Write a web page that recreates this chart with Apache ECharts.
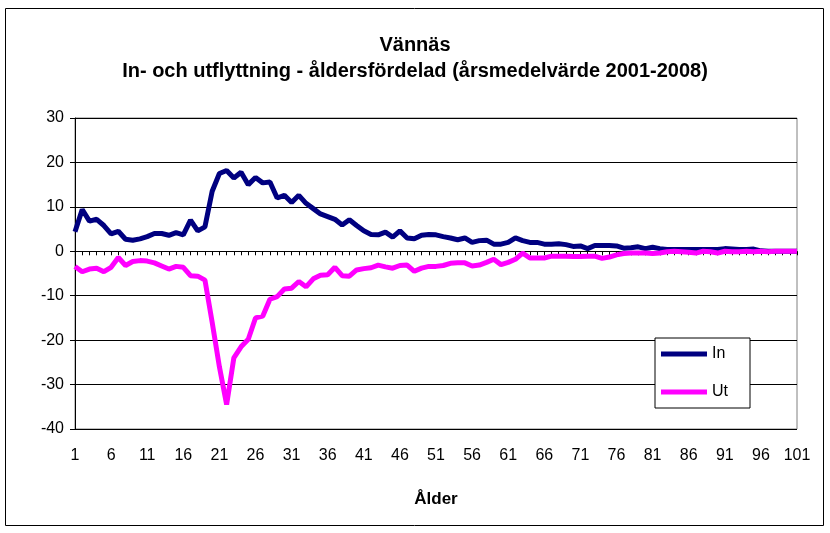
<!DOCTYPE html>
<html>
<head>
<meta charset="utf-8">
<script src="https://cdn.jsdelivr.net/npm/echarts@6/dist/echarts.min.js"></script>
<style>
  html, body { margin: 0; padding: 0; background: #fff; }
  #main { width: 830px; height: 533px; }
</style>
</head>
<body>
<div id="main"></div>
<script>
// ålder 1..101
var ages = [];
for (var i = 1; i <= 101; i++) ages.push(String(i));

// inflyttning per ålder
var inData = [
  4.4, 9.4, 6.8, 7.2, 5.8, 3.9, 4.5, 2.7, 2.5, 2.8,
  3.3, 4.0, 4.0, 3.6, 4.2, 3.7, 7.0, 4.6, 5.5, 13.5,
  17.5, 18.2, 16.5, 17.8, 15.0, 16.6, 15.4, 15.6, 12.0, 12.6,
  11.0, 12.6, 10.8, 9.6, 8.4, 7.8, 7.2, 5.9, 7.1, 5.8,
  4.6, 3.8, 3.7, 4.3, 3.2, 4.6, 3.0, 2.8, 3.6, 3.8,
  3.7, 3.3, 3.0, 2.6, 3.0, 2.0, 2.4, 2.5, 1.6, 1.6,
  2.0, 3.0, 2.4, 2.0, 2.0, 1.6, 1.6, 1.7, 1.5, 1.1,
  1.2, 0.6, 1.3, 1.3, 1.3, 1.2, 0.7, 0.8, 1.0, 0.6,
  0.9, 0.6, 0.4, 0.4, 0.4, 0.4, 0.4, 0.4, 0.4, 0.4,
  0.6, 0.5, 0.4, 0.4, 0.5, 0.1, 0, 0, 0, 0,
  0
];

// utflyttning per ålder
var utData = [
  -3.4, -4.6, -4.0, -3.8, -4.6, -3.6, -1.4, -3.2, -2.3, -2.1,
  -2.2, -2.6, -3.3, -4.0, -3.4, -3.6, -5.5, -5.6, -6.5, -16,
  -26, -34.5, -24, -21.5, -19.8, -15, -14.6, -10.8, -10.2, -8.5,
  -8.3, -6.8, -8.0, -6.2, -5.4, -5.3, -3.6, -5.5, -5.6, -4.2,
  -3.9, -3.7, -3.1, -3.5, -3.8, -3.2, -3.1, -4.5, -3.8, -3.4,
  -3.4, -3.2, -2.7, -2.6, -2.6, -3.3, -3.1, -2.5, -1.8, -3.0,
  -2.5, -1.8, -0.4, -1.5, -1.5, -1.5, -1.1, -1.1, -1.1, -1.2,
  -1.2, -1.1, -1.1, -1.6, -1.3, -0.8, -0.5, -0.4, -0.4, -0.4,
  -0.5, -0.4, -0.1, 0, -0.1, -0.2, -0.4, 0, -0.1, -0.4,
  0, -0.1, -0.1, 0, -0.1, 0, -0.1, 0, 0, 0,
  0
];

var font = '"Liberation Sans", Arial, sans-serif';

var myChart = echarts.init(document.getElementById('main'));
var option = {
  animation: false,
  backgroundColor: '#fff',
  textStyle: { fontFamily: font },
  title: {
    text: 'Vännäs\nIn- och utflyttning - åldersfördelad (årsmedelvärde 2001-2008)',
    left: 'center',
    top: 27,
    textStyle: { fontSize: 20, fontWeight: 'bold', color: '#000', lineHeight: 26, fontFamily: font }
  },
  graphic: [{
    type: 'rect',
    shape: { x: 5.5, y: 8.5, width: 818, height: 517 },
    style: { fill: null, stroke: '#000', lineWidth: 1 },
    silent: true
  }],
  legend: {
    orient: 'vertical',
    left: 655,
    top: 338,
    icon: 'rect',
    itemWidth: 46,
    itemHeight: 5,
    itemGap: 22,
    padding: [8, 22, 8, 6],
    borderColor: '#000',
    borderWidth: 1,
    backgroundColor: '#fff',
    textStyle: { fontSize: 16, color: '#000', fontFamily: font },
    data: ['In', 'Ut']
  },
  grid: { left: 75, right: 33, top: 118, bottom: 104, show: true, borderColor: '#808080', borderWidth: 1 },
  xAxis: [{
    type: 'category',
    data: ages,
    boundaryGap: false,
    axisLine: { onZero: true, lineStyle: { color: '#000', width: 1 } },
    axisTick: { show: true, interval: 0, length: 4, lineStyle: { color: '#000' } },
    axisLabel: { show: false },
    splitLine: { show: false }
  }, {
    type: 'category',
    data: ages,
    boundaryGap: false,
    position: 'bottom',
    axisLine: { show: false, onZero: false },
    axisTick: { show: false },
    axisLabel: { interval: 4, fontSize: 16, color: '#000', margin: 19, fontFamily: font },
    name: 'Ålder',
    nameLocation: 'middle',
    nameGap: 62,
    nameTextStyle: { fontSize: 17, fontWeight: 'bold', color: '#000', fontFamily: font }
  }],
  yAxis: {
    type: 'value',
    min: -40,
    max: 30,
    interval: 10,
    axisLine: { show: true, lineStyle: { color: '#000', width: 1 } },
    axisTick: { show: true, length: 5, lineStyle: { color: '#000' } },
    axisLabel: { fontSize: 16, color: '#000', margin: 11, fontFamily: font },
    splitLine: { lineStyle: { color: '#000', width: 1 } }
  },
  series: [{
    name: 'In',
    type: 'line',
    xAxisIndex: 0,
    data: inData,
    symbol: 'none',
    lineStyle: { color: '#000080', width: 5 },
    itemStyle: { color: '#000080' }
  }, {
    name: 'Ut',
    type: 'line',
    xAxisIndex: 0,
    data: utData,
    symbol: 'none',
    lineStyle: { color: '#ff00ff', width: 5 },
    itemStyle: { color: '#ff00ff' }
  }]
};
myChart.setOption(option);
</script>
</body>
</html>
